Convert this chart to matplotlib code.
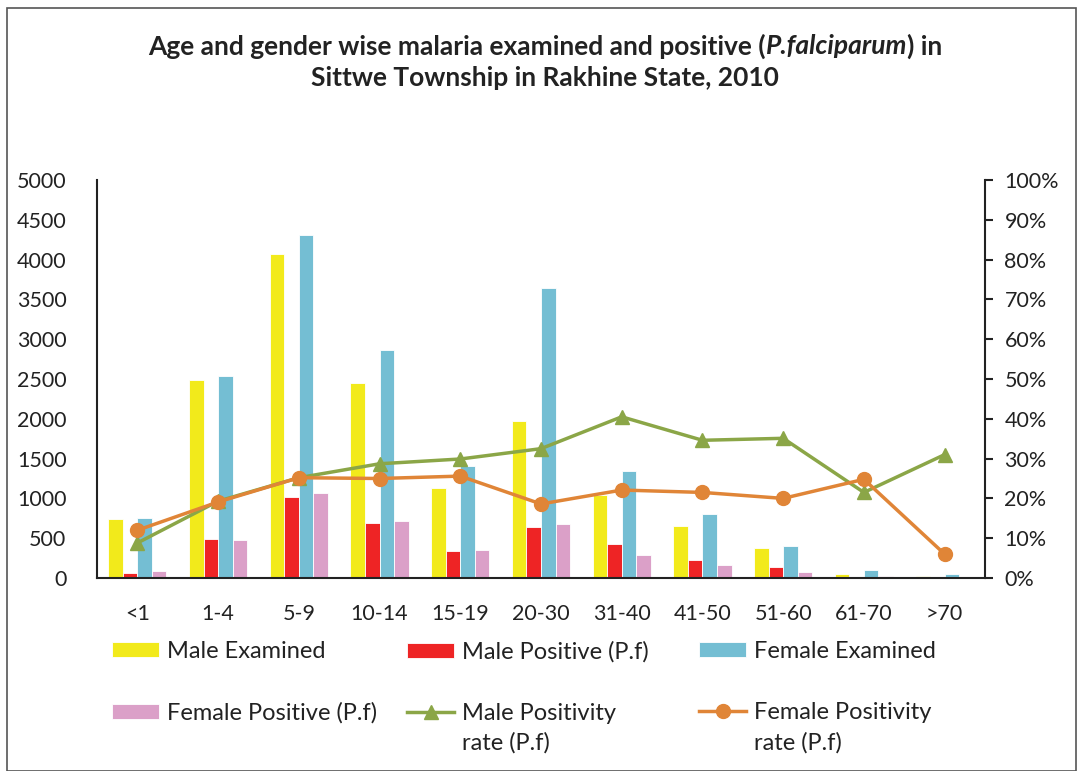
import matplotlib.pyplot as plt
import numpy as np
from matplotlib.ticker import PercentFormatter
from matplotlib.patches import Rectangle

plt.rcParams['font.family'] = ['Lato', 'DejaVu Sans']

ages = ['<1', '1-4', '5-9', '10-14', '15-19', '20-30', '31-40', '41-50', '51-60', '61-70', '>70']
male_exam = [746, 2492, 4069, 2445, 1136, 1971, 1048, 658, 373, 46, 29]
male_pos = [67, 490, 1023, 696, 340, 637, 428, 226, 134, 10, 8]
female_exam = [755, 2533, 4308, 2861, 1413, 3641, 1342, 800, 406, 96, 46]
female_pos = [92, 482, 1073, 713, 356, 675, 293, 167, 79, 20, 3]
male_rate = [8.8, 19.3, 25.2, 28.7, 29.9, 32.5, 40.5, 34.6, 35.1, 21.5, 31.0]
female_rate = [12.0, 19.1, 25.2, 25.0, 25.6, 18.6, 22.1, 21.5, 20.0, 24.8, 6.0]

W, H = 1079, 771
fig = plt.figure(figsize=(W / 100, H / 100), dpi=100)
fig.patches.append(Rectangle((7 / W, 0), 1 - 10 / W, 1 - 8 / H, transform=fig.transFigure,
                             fill=False, edgecolor='#555555', lw=1.2))
ax = fig.add_axes([97 / W, 1 - 578 / H, 888 / W, 398 / H])

x = np.arange(len(ages))
w = 0.18
bars = [
    (male_exam, '#F2EA1B', 'Male Examined'),
    (male_pos, '#EE2425', 'Male Positive (P.f)'),
    (female_exam, '#74BED3', 'Female Examined'),
    (female_pos, '#DBA0C8', 'Female Positive (P.f)'),
]
handles = []
for i, (vals, col, lab) in enumerate(bars):
    b = ax.bar(x + (i - 1.5) * w, vals, w, color=col, edgecolor='white', linewidth=0.6, label=lab)
    handles.append(b)

ax.set_ylim(0, 5000)
ax.set_yticks(range(0, 5001, 500))
ax.set_xlim(-0.5, len(ages) - 0.5)
ax.set_xticks(x)
ax.set_xticklabels(ages)
ax.tick_params(axis='y', length=0, labelsize=15.5, pad=22, labelcolor='#222222')
ax.tick_params(axis='x', length=0, labelsize=15.5, pad=19, labelcolor='#222222')
for s in ['top', 'right']:
    ax.spines[s].set_visible(False)
for s in ['left', 'bottom']:
    ax.spines[s].set_linewidth(1.5)
    ax.spines[s].set_color('#222222')

ax2 = ax.twinx()
l1, = ax2.plot(x, male_rate, color='#8BA647', lw=2.5, marker='^', ms=10, label='Male Positivity')
l2, = ax2.plot(x, female_rate, color='#E08537', lw=2.5, marker='o', ms=10, label='Female Positivity')
ax2.set_ylim(0, 100)
ax2.set_yticks(range(0, 101, 10))
ax2.yaxis.set_major_formatter(PercentFormatter(decimals=0))
ax2.tick_params(axis='y', length=6, width=1.5, labelsize=15.5, pad=8, color='#222222',
                labelcolor='#222222')
for s in ['top', 'left', 'bottom']:
    ax2.spines[s].set_visible(False)
ax2.spines['right'].set_linewidth(1.5)
ax2.spines['right'].set_color('#222222')

# title, line 1 in three pieces so the species name is italic
parts = ['Age and gender wise malaria examined and positive (', 'P.falciparum', ') in']
styles = ['normal', 'italic', 'normal']
fig.canvas.draw()
r = fig.canvas.get_renderer()
fs = 16
texts = [fig.text(0, 1 - 46 / H, p, fontsize=fs, fontweight='bold', style=st, color='#222222',
                  va='center', ha='left') for p, st in zip(parts, styles)]
total = sum(t.get_window_extent(r).width for t in texts)
fs = fs * 800 / total
for t in texts:
    t.set_fontsize(fs)
widths = [t.get_window_extent(r).width for t in texts]
left = 545 - sum(widths) / 2
for t, wd in zip(texts, widths):
    t.set_x(left / W)
    left += wd
fig.text(545 / W, 1 - 78 / H, 'Sittwe Township in Rakhine State, 2010', ha='center', va='center',
         fontsize=fs, fontweight='bold', color='#222222')

# legend: one column legend each, placed where the reference has them
lfs = 17
cols = [([handles[0], handles[3]], 112), ([handles[1], l1], 407), ([handles[2], l2], 699)]
legs = []
for hs, xl in cols:
    lg = fig.legend(handles=hs, loc='upper left', bbox_to_anchor=(xl / W, 1 - 641 / H),
                    frameon=False, fontsize=lfs, handlelength=2.0, handleheight=0.6,
                    handletextpad=0.35, labelspacing=1.7, borderaxespad=0, borderpad=0,
                    labelcolor='#222222')
    legs.append(lg)
fig.canvas.draw()
for lg in legs[1:]:
    t = lg.get_texts()[1]
    bb = t.get_window_extent(r)
    fig.text(bb.x0 / W, (bb.y0 - 30) / H, 'rate (P.f)', fontsize=lfs, color='#222222',
             ha='left', va='bottom')

fig.savefig('out.png', dpi=100)
